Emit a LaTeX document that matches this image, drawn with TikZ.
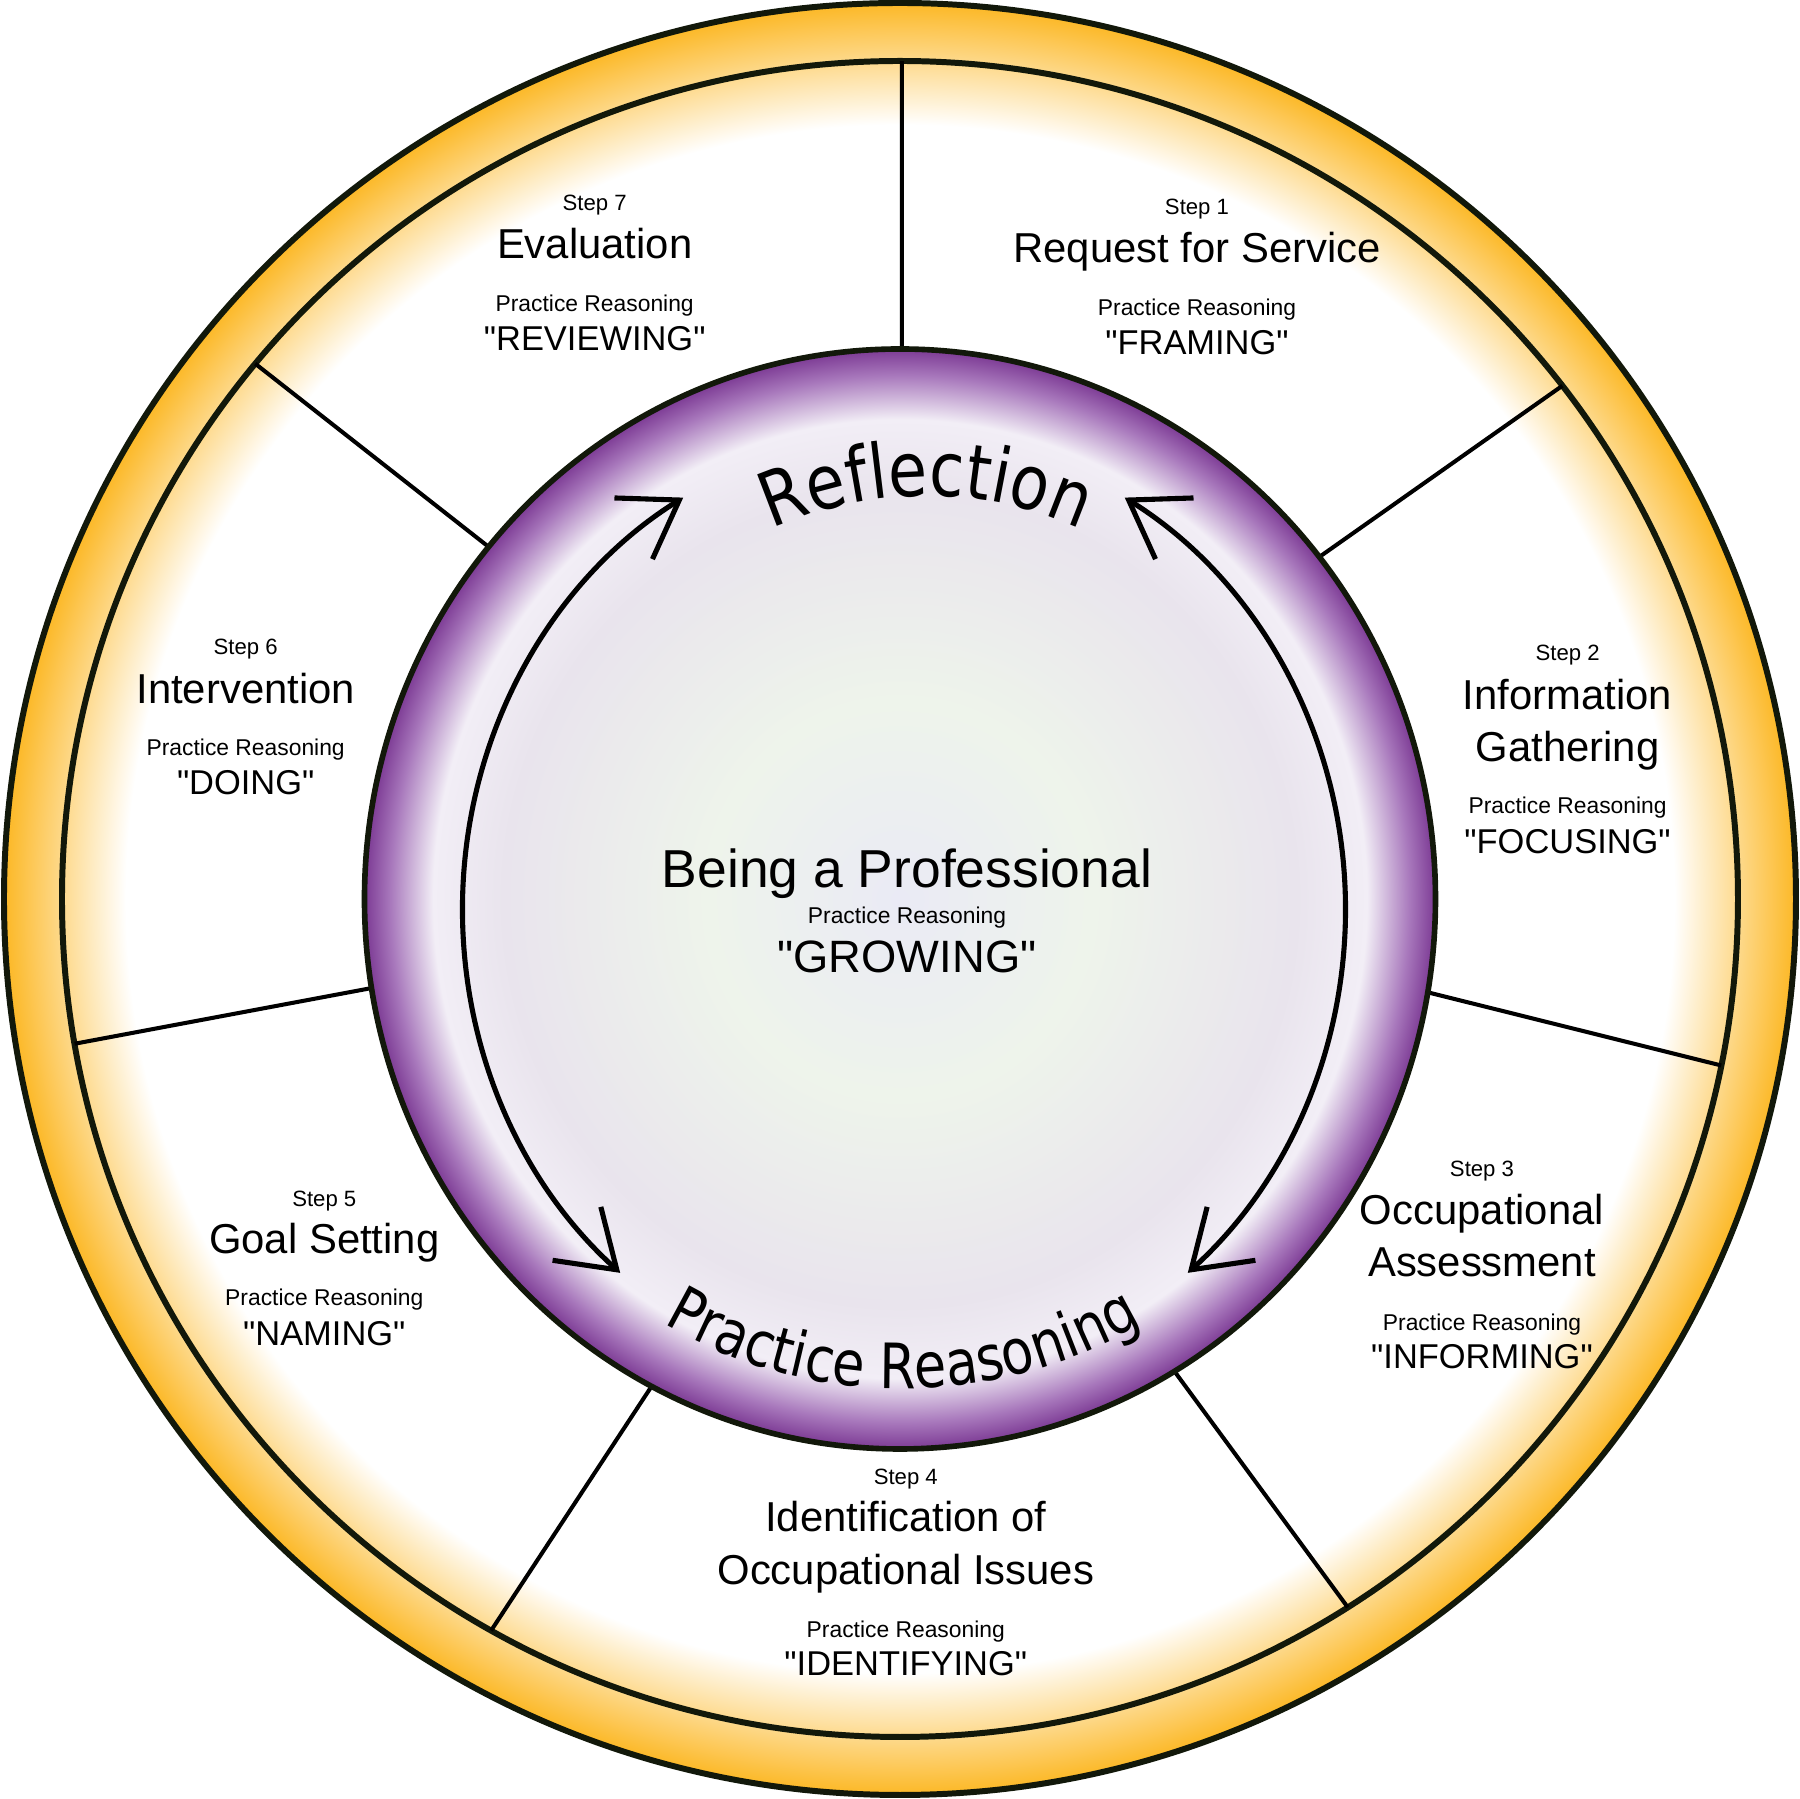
\documentclass[tikz,border=0pt]{standalone}
\usepackage{fontspec}
\newfontfamily\labelfont{Liberation Sans}
\newfontfamily\arcfont[FakeStretch=0.84]{DejaVu Sans}
\usetikzlibrary{arrows.meta,decorations.text}

\definecolor{ringorange}{RGB}{252,184,38}
\definecolor{rimline}{RGB}{18,24,10}
\definecolor{discpurple}{RGB}{124,58,148}
\definecolor{discmid}{RGB}{168,120,188}
\definecolor{disclight}{RGB}{242,238,246}
\definecolor{discgrey}{RGB}{233,228,237}
\definecolor{discgreen}{RGB}{238,244,235}
\definecolor{discblue}{RGB}{234,234,245}

\pgfdeclareradialshading{ringglow}{\pgfpoint{0bp}{0bp}}{color(0bp)=(white); color(21.6bp)=(white); color(25bp)=(ringorange); color(50bp)=(ringorange)}
\pgfdeclareradialshading{discglow}{\pgfpoint{0bp}{0bp}}{color(0bp)=(discblue); color(9bp)=(discgreen); color(18.5bp)=(discgrey); color(21.8bp)=(disclight); color(23.8bp)=(discmid); color(25bp)=(discpurple); color(50bp)=(discpurple)}

\begin{document}
\begin{tikzpicture}[
  stepno/.style={anchor=base, font=\labelfont\fontsize{6.3}{7}\selectfont},
  steptitle/.style={anchor=base, font=\labelfont\fontsize{11.9}{14}\selectfont},
  reasonsmall/.style={anchor=base, font=\labelfont\fontsize{6.5}{7}\selectfont},
  reasonword/.style={anchor=base, font=\labelfont\fontsize{9.8}{11}\selectfont},
  centretitle/.style={anchor=base, font=\labelfont\fontsize{15.2}{18}\selectfont},
  centreword/.style={anchor=base, font=\labelfont\fontsize{12.9}{15}\selectfont},
  rim/.style={draw=rimline, line width=1.7pt},
  spoke/.style={line width=1.15pt},
  cyclearrow/.style={line width=1.45pt, {Straight Barb[length=5.4mm,width=7.2mm]}-{Straight Barb[length=5.4mm,width=7.2mm]}},
  inner sep=0pt]
\useasboundingbox (-9,-9) rectangle (9,8.99);
\def\Rout{8.96}
\def\Rin{8.38}
\def\discx{5.355}
\def\discy{5.5}

% Outer ring
\shade[shading=ringglow] (0,0) circle (\Rout);
\draw[rim] (0,0) circle (\Rout);
\draw[rim] (0,0) circle (\Rin);

% Spokes between the steps
\foreach \a/\b in {89.87/89.8, 37.77/38.46, -11.46/-9.72, -57.7/-59.2, 240.8/242.4, 189.95/189.3, 140.3/140.2}
  \draw[spoke] (\a:\Rin) -- (\b:5.3 and 5.45);

% Centre disc
\shade[shading=discglow] (0,0) ellipse [x radius=\discx, y radius=\discy];
\draw[rimline, line width=1.6pt] (0,0) ellipse [x radius=\discx, y radius=\discy];

% Cycle arrows
\coordinate (ac) at (0.04,-0.10);
\draw[cyclearrow] ([shift={(230:4.415 and 4.75)}]ac) arc[start angle=230, end angle=120, x radius=4.415, y radius=4.75];
\draw[cyclearrow] ([shift={(-50:4.415 and 4.75)}]ac) arc[start angle=-50, end angle=60, x radius=4.415, y radius=4.75];

% Curved labels
\coordinate (topc) at (0.26,0.27);
\coordinate (botc) at (0.03,-0.14);
\path[decorate, decoration={text along path, text align=center,
  text={|\arcfont\fontsize{21.5}{21.5}\selectfont|Reflection}}]
  ([shift={(150:3.76)}]topc) arc[start angle=150, end angle=30, radius=3.76];
\path[decorate, decoration={text along path, text align=center,
  text={|\arcfont\fontsize{17.8}{17.8}\selectfont|Practice Reasoning}}]
  ([shift={(200:4.756)}]botc) arc[start angle=200, end angle=340, radius=4.756];

% Centre text
\node[centretitle] (being) at (0.07,0.119) {Being a Professional};
\node[reasonsmall] (prc) at (0.07,-0.242) {Practice Reasoning};
\node[centreword] (growing) at (0.07,-0.736) {"GROWING"};

% Step 1
\node[stepno] (no1) at (2.97,6.843) {Step 1};
\node[steptitle] (title1) at (2.97,6.36) {Request for Service};
\node[reasonsmall] (pr1) at (2.97,5.838) {Practice Reasoning};
\node[reasonword] (word1) at (2.97,5.44) {"FRAMING"};

% Step 2
\node[stepno] (no2) at (6.676,2.383) {Step 2};
\node[steptitle] (title2a) at (6.676,1.894) {Information};
\node[steptitle] (title2b) at (6.676,1.377) {Gathering};
\node[reasonsmall] (pr2) at (6.676,0.854) {Practice Reasoning};
\node[reasonword] (word2) at (6.676,0.457) {"FOCUSING"};

% Step 3
\node[stepno] (no3) at (5.82,-2.777) {Step 3};
\node[steptitle] (title3a) at (5.82,-3.26) {Occupational};
\node[steptitle] (title3b) at (5.82,-3.777) {Assessment};
\node[reasonsmall] (pr3) at (5.82,-4.312) {Practice Reasoning};
\node[reasonword] (word3) at (5.82,-4.697) {"INFORMING"};

% Step 4
\node[stepno] (no4) at (0.058,-5.853) {Step 4};
\node[steptitle] (title4a) at (0.058,-6.325) {Identification of};
\node[steptitle] (title4b) at (0.058,-6.853) {Occupational Issues};
\node[reasonsmall] (pr4) at (0.058,-7.382) {Practice Reasoning};
\node[reasonword] (word4) at (0.058,-7.768) {"IDENTIFYING"};

% Step 5
\node[stepno] (no5) at (-5.757,-3.075) {Step 5};
\node[steptitle] (title5) at (-5.757,-3.547) {Goal Setting};
\node[reasonsmall] (pr5) at (-5.757,-4.07) {Practice Reasoning};
\node[reasonword] (word5) at (-5.757,-4.467) {"NAMING"};

% Step 6
\node[stepno] (no6) at (-6.543,2.44) {Step 6};
\node[steptitle] (title6) at (-6.543,1.951) {Intervention};
\node[reasonsmall] (pr6) at (-6.543,1.434) {Practice Reasoning};
\node[reasonword] (word6) at (-6.543,1.048) {"DOING"};

% Step 7
\node[stepno] (no7) at (-3.053,6.884) {Step 7};
\node[steptitle] (title7) at (-3.053,6.40) {Evaluation};
\node[reasonsmall] (pr7) at (-3.053,5.878) {Practice Reasoning};
\node[reasonword] (word7) at (-3.053,5.48) {"REVIEWING"};
\end{tikzpicture}
\end{document}
